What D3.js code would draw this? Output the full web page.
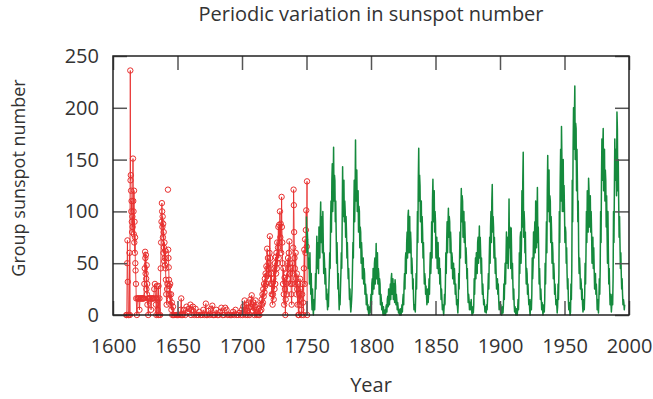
<!DOCTYPE html>
<html><head><meta charset="utf-8">
<script src="https://cdn.jsdelivr.net/npm/d3@7"></script>
<style>body{margin:0;background:#fff} text{font-family:"Open Sans",sans-serif}</style>
</head><body><svg id="c" width="653" height="399"></svg>
<script>
const title = "Periodic variation in sunspot number";
const xLabel = "Year";
const yLabel = "Group sunspot number";
const xTicks = [1600,1650,1700,1750,1800,1850,1900,1950,2000];
const yTicks = [0,50,100,150,200,250];

// Early observations (red, with circles); null = gap
const redYears = [
1610.3,1610.7,1611.0,1611.2,1611.5,1611.8,1612.3,1612.8,1613.1,1613.4,1613.6,1613.8,1614.0,1614.2,1614.4,1614.6,1614.8,1615.0,1615.2,1615.5,
1615.7,1615.9,1616.1,1616.3,1616.5,1616.7,1616.9,1617.1,1617.3,1617.5,1617.8,1618.0,1618.5,1619.0,1619.5,1620.0,1620.5,1621.0,1621.5,1622.0,
1622.5,1623.0,1623.5,1624.0,1624.3,1624.6,1624.9,1625.1,1625.3,1625.5,1625.7,1625.9,1626.1,1626.3,1626.5,1626.7,1627.0,1627.3,1627.6,1628.0,
1628.5,1629.0,1629.5,1630.0,1630.5,1631.0,1631.5,1632.0,1632.5,1633.0,1633.3,1633.6,1634.0,1634.3,1634.6,1635.0,1635.3,1635.6,1636.0,1636.5,
1637.0,1637.3,1637.6,1637.9,1638.1,1638.3,1638.5,1638.7,1638.9,1639.1,1639.3,1639.5,1639.7,1639.9,1640.1,1640.3,1640.5,1640.7,1641.0,1641.3,
1641.6,1641.9,1642.2,1642.4,1642.6,1642.7,1642.8,1643.0,1643.2,1643.4,1643.6,1643.8,1644.0,1644.3,1644.6,1645.0,1645.3,1645.6,1646.0,1646.5,
1647,1648,1649,1650,1651,1652,1652.5,1652.9,1653.3,1654,1655,1656,1657,1658,1659,1660,1660.5,1661,1662,1663,
1664,1665,1666,1667,1668,1669,1670,1671,1672,1672.5,1673,1674,1675,1676,1677,1677.5,1678,1679,1680,1681,
1682,1683,1684,1685,1686,1687,1688,1689,1690,1691,1692,1693,1694,1695,1696,1697,1698,1699,1700,1700.5,
1701,1701.5,1702,1702.5,1703,1703.5,1704,1704.5,1705,1705.5,1706,1706.5,1707,1707.5,1708,1708.5,1709,1709.5,1710,1710.5,
1711,1711.5,1712,1712.5,1713,1713.5,1714,1714.5,1715,1715.3,1715.6,1715.9,1716.2,1716.5,1716.8,1717.1,1717.4,1717.7,1718,1718.3,
1718.6,1718.9,1719.2,1719.5,1719.8,1720.1,1720.4,1720.7,1721,1721.3,1721.6,1721.9,1722.2,1722.5,1722.8,1723.1,1723.4,1723.7,1724,1724.3,
1724.6,1724.9,1725.2,1725.5,1725.8,1726.1,1726.4,1726.7,1727,1727.3,1727.6,1727.9,1728.2,1728.5,1728.8,1729.1,1729.4,1729.7,1730,1730.4,
1730.7,1730.9,1731.2,1731.5,1731.8,1732.1,1732.4,1732.7,1733,1733.3,1733.6,1733.9,1734.2,1734.5,1734.8,1735.1,1735.4,1735.7,1736,1736.3,
1736.7,1737,1737.3,1737.6,1737.9,1738.2,1738.5,1738.8,1739.1,1739.4,1739.7,1740,1740.2,1740.4,1740.7,1741,1741.3,1741.6,1741.9,1742.2,
1742.5,1742.8,1743.1,1743.4,1743.7,1744,1744.3,1744.6,1745,1745.3,1745.6,1746,1746.3,1746.6,1747,1747.3,1747.6,1748,1748.3,1748.6,
1748.9,1749.2,1749.5,1749.8,1750.2,1750.4,1750.5
];
const redValues = [
0,0,50,72,32,0,0,60,0,236,130,135,120,100,110,90,80,95,85,151,
110,100,78,120,70,90,60,75,50,43,30,16,0,16,16,16,5,16,16,16,
16,16,16,16,30,45,61,55,40,58,35,25,48,20,30,10,16,0,16,16,
16,16,5,16,16,16,16,25,30,16,10,0,28,16,5,0,28,0,16,0,
45,70,90,108,100,85,95,75,88,60,80,65,52,70,55,48,62,45,34,20,
10,25,30,null,121,null,63,55,46,34,28,20,15,30,10,20,5,12,0,8,
0,0,0,0,0,0,5,16,0,0,5,0,8,3,6,10,0,5,8,0,
6,0,0,3,0,0,5,0,11,0,0,4,0,6,9,0,0,0,5,0,
0,3,7,0,0,7,5,0,0,0,0,3,0,5,0,0,2,0,5,0,
8,3,14,5,0,10,4,0,12,7,0,15,8,19,10,4,12,0,8,14,
5,0,3,0,6,0,4,10,5,15,10,20,12,25,18,30,22,35,28,40,
30,47,38,64,45,55,35,50,40,60,76,55,45,30,40,20,30,10,20,35,
15,45,25,50,30,56,40,60,45,70,50,65,85,55,87,70,100,75,88,60,
114,85,70,50,30,45,20,10,36,25,0,15,30,40,20,50,35,55,45,60,
71,50,40,30,45,20,10,30,50,40,65,121,106,80,55,45,30,60,35,20,
40,25,10,30,0,0,20,10,35,15,25,5,0,20,30,12,0,45,63,30,
73,60,82,101,66,129,0
];

// Later record (green), three samples per year from 1750
const greenStartYear = 1750;
const greenSamplesPerYear = 3;
const greenValues = [
95,60,80, 70,45,55, 50,30,60, 35,20,40, 15,5,25, 8,0,12, 15,5,20, 40,25,50, 76,45,60, 70,40,85,
75,55,90, 109,70,95, 80,60,100, 70,40,60, 50,30,45, 35,15,25, 15,5,20, 8,25,40, 60,45,90, 110,80,130,
146,100,120, 162,110,135, 130,90,110, 80,50,70, 50,25,40, 20,5,15, 10,25,40, 60,45,90, 143,95,120, 130,90,110,
100,75,95, 80,55,70, 50,35,45, 30,15,25, 10,3,8, 15,25,45, 70,55,100, 130,90,115, 169,110,140, 140,100,120,
120,80,105, 100,65,85, 80,50,70, 60,35,50, 55,30,45, 40,20,30, 25,10,20, 15,5,10, 3,0,5, 8,2,12,
20,10,30, 35,20,45, 40,25,50, 55,30,45, 69,35,55, 60,30,45, 40,20,35, 30,10,20, 15,5,12, 5,0,8,
2,0,3, 5,0,8, 10,3,15, 18,8,25, 25,10,20, 30,15,35, 40,20,30, 35,15,30, 30,12,34, 28,10,20,
15,5,12, 8,2,5, 3,0,6, 2,0,5, 10,3,15, 20,10,30, 40,25,55, 60,40,70, 80,55,95, 101,60,85,
95,60,80, 70,40,55, 45,25,35, 15,5,10, 10,3,20, 40,25,60, 100,70,130, 161,110,135, 125,90,110, 110,70,95,
80,55,70, 50,30,40, 35,20,28, 20,10,15, 25,12,20, 35,20,45, 60,40,55, 90,55,110, 131,90,118, 120,80,100,
90,55,75, 75,45,65, 70,40,55, 55,30,45, 30,15,25, 15,5,10, 5,0,8, 20,10,30, 60,40,70, 90,60,85,
103,75,95, 90,60,80, 70,45,60, 55,35,50, 50,30,45, 35,20,30, 20,10,15, 8,2,12, 40,25,55, 80,55,95,
122,90,115, 110,75,100, 100,70,90, 75,50,65, 55,35,45, 25,12,20, 15,5,12, 12,5,15, 5,0,3, 8,2,10,
35,20,40, 55,35,60, 60,40,70, 75,50,65, 86,55,75, 60,40,55, 35,20,30, 20,10,15, 10,3,8, 8,2,10,
5,15,25, 40,25,55, 75,50,85, 100,70,110, 126,80,95, 85,55,75, 60,40,55, 40,25,35, 35,20,30, 15,5,12,
12,5,10, 5,0,3, 8,2,10, 30,15,35, 50,30,55, 80,50,70, 75,45,65, 112,65,85, 70,45,84, 60,35,50,
30,15,25, 10,3,8, 5,0,6, 3,0,5, 15,5,20, 60,40,75, 80,50,70, 120,85,130, 157,75,100, 90,60,80,
50,30,45, 40,20,30, 20,10,15, 5,0,8, 15,5,20, 55,35,50, 80,55,75, 90,60,110, 100,65,90, 123,70,85,
60,30,45, 30,15,25, 15,5,12, 5,0,8, 10,3,15, 50,30,60, 90,60,120, 154,100,130, 140,90,115, 110,70,95,
80,50,70, 60,35,50, 40,20,30, 20,10,15, 10,2,8, 30,15,40, 100,70,130, 160,110,182, 150,100,130, 150,100,125,
100,70,85, 80,50,65, 40,25,35, 15,5,12, 5,0,3, 30,15,45, 130,90,160, 200,160,190, 221,150,185, 180,120,160,
130,90,110, 60,40,55, 45,25,35, 30,15,25, 10,3,8, 15,5,20, 50,30,60, 100,70,120, 110,80,132, 120,85,105,
115,80,100, 80,50,70, 75,45,65, 45,25,40, 40,20,30, 20,5,15, 10,2,15, 35,20,45, 100,70,130, 170,130,160,
180,120,150, 160,110,140, 130,85,115, 80,50,100, 60,30,45, 25,10,20, 12,3,10, 20,10,35, 100,70,120, 170,130,160,
150,115,196, 180,120,150, 110,75,95, 70,45,60, 40,25,35, 20,10,15, 12,5,10
];

const W = 653, H = 399;
const L = 113, R = 629, T = 56, B = 315;
const svg = d3.select("#c");
const x = d3.scaleLinear().domain([1600, 2000]).range([L, R]);
const y = d3.scaleLinear().domain([0, 250]).range([B, T]);
const textCol = "#333";
const tickCol = "#555";
const red = "#e8302f", green = "#158a3d";
const fs = "20px";

// data
const redData = redYears.map((yr, i) => ({x: yr, v: redValues[i]}));
const greenData = greenValues.map((v, i) => ({x: greenStartYear + i / greenSamplesPerYear, v}));

const lineGen = d3.line().defined(d => d.v != null).x(d => x(d.x)).y(d => y(d.v));

svg.append("path").datum(redData).attr("d", lineGen)
  .attr("fill", "none").attr("stroke", red).attr("stroke-width", 1).attr("stroke-opacity", 0.9);
svg.append("g").selectAll("circle").data(redData.filter(d => d.v != null)).join("circle")
  .attr("cx", d => x(d.x)).attr("cy", d => y(d.v)).attr("r", 2.7)
  .attr("fill", "none").attr("stroke", red).attr("stroke-width", 1);

svg.append("path").datum(greenData).attr("d", lineGen)
  .attr("fill", "none").attr("stroke", green).attr("stroke-width", 1.5).attr("stroke-linejoin", "round");

// axes (ticks inward, mirrored)
function style(g) {
  g.select(".domain").remove();
  g.selectAll(".tick line").attr("stroke", tickCol).attr("stroke-width", 1.5);
  g.selectAll("text").attr("fill", textCol).style("font-size", fs).style("font-family", '"Open Sans", sans-serif');
}
svg.append("g").attr("transform", `translate(0,${B})`)
  .call(d3.axisBottom(x).tickValues(xTicks).tickSize(-14).tickPadding(24).tickFormat(d3.format("d"))).call(style);
svg.append("g").attr("transform", `translate(0,${T})`)
  .call(d3.axisTop(x).tickValues(xTicks).tickSize(-14).tickFormat("")).call(style);
svg.append("g").attr("transform", `translate(${L},0)`)
  .call(d3.axisLeft(y).tickValues(yTicks).tickSize(-14).tickPadding(14)).call(style);
svg.append("g").attr("transform", `translate(${R},0)`)
  .call(d3.axisRight(y).tickValues(yTicks).tickSize(-14).tickFormat("")).call(style);

svg.append("rect").attr("x", L).attr("y", T).attr("width", R - L).attr("height", B - T)
  .attr("fill", "none").attr("stroke", "#222").attr("stroke-width", 1.5);

svg.append("text").attr("x", (L + R) / 2).attr("y", 21).attr("text-anchor", "middle")
  .attr("fill", textCol).style("font-size", fs).text(title);
svg.append("text").attr("x", (L + R) / 2).attr("y", 392).attr("text-anchor", "middle")
  .attr("fill", textCol).style("font-size", fs).text(xLabel);
svg.append("text").attr("transform", `translate(25,178) rotate(-90)`).attr("text-anchor", "middle")
  .attr("fill", textCol).style("font-size", "18px").text(yLabel);
</script></body></html>
